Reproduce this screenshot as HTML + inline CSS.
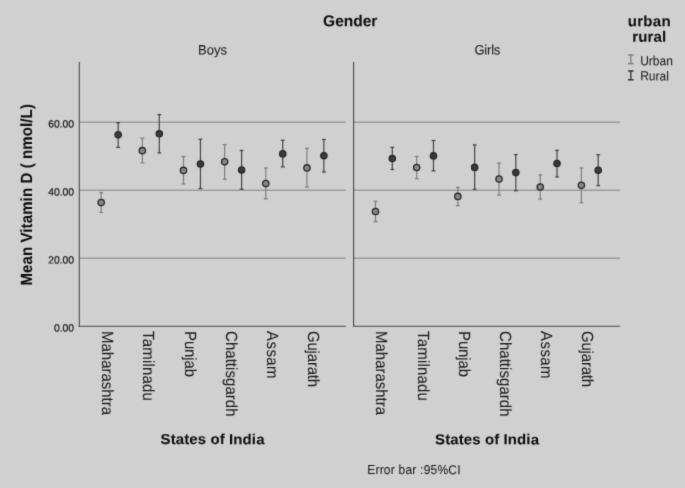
<!DOCTYPE html>
<html><head><meta charset="utf-8"><style>
html,body{margin:0;padding:0;background:#d0d0d0;}
body{width:685px;height:488px;overflow:hidden;}
svg{display:block;text-rendering:geometricPrecision;}
</style></head><body>
<svg width="685" height="488" viewBox="0 0 685 488">
<defs><filter id="bl" x="0" y="0" width="685" height="488" filterUnits="userSpaceOnUse" color-interpolation-filters="sRGB"><feConvolveMatrix order="3" kernelMatrix="0.0144 0.0912 0.0144 0.0912 0.5776 0.0912 0.0144 0.0912 0.0144" edgeMode="duplicate" preserveAlpha="true"/></filter></defs>
<g filter="url(#bl)">
<rect width="685" height="488" fill="#d0d0d0"/>
<line x1="79.3" y1="122.25" x2="345.8" y2="122.25" stroke="#9b9b9b" stroke-width="1.3"/>
<line x1="79.3" y1="190.25" x2="345.8" y2="190.25" stroke="#9b9b9b" stroke-width="1.3"/>
<line x1="79.3" y1="258.25" x2="345.8" y2="258.25" stroke="#9b9b9b" stroke-width="1.3"/>
<line x1="78.7" y1="326.3" x2="345.8" y2="326.3" stroke="#484848" stroke-width="1.1"/>
<line x1="79.3" y1="62" x2="79.3" y2="326.8" stroke="#484848" stroke-width="1.1"/>
<line x1="353.6" y1="122.25" x2="620" y2="122.25" stroke="#9b9b9b" stroke-width="1.3"/>
<line x1="353.6" y1="190.25" x2="620" y2="190.25" stroke="#9b9b9b" stroke-width="1.3"/>
<line x1="353.6" y1="258.25" x2="620" y2="258.25" stroke="#9b9b9b" stroke-width="1.3"/>
<line x1="353" y1="326.3" x2="620" y2="326.3" stroke="#484848" stroke-width="1.1"/>
<line x1="353.6" y1="62" x2="353.6" y2="326.8" stroke="#484848" stroke-width="1.1"/>
<line x1="101.2" y1="192.6" x2="101.2" y2="212.4" stroke="#7e7e7e" stroke-width="1.2"/><line x1="99.3" y1="192.6" x2="103.1" y2="192.6" stroke="#7e7e7e" stroke-width="1.3"/><line x1="99.3" y1="212.4" x2="103.1" y2="212.4" stroke="#7e7e7e" stroke-width="1.3"/><circle cx="101.2" cy="202.5" r="3.15" fill="#888888" stroke="#262626" stroke-width="1.3"/>
<line x1="142.35" y1="138.15" x2="142.35" y2="162.9" stroke="#7e7e7e" stroke-width="1.2"/><line x1="140.45" y1="138.15" x2="144.25" y2="138.15" stroke="#7e7e7e" stroke-width="1.3"/><line x1="140.45" y1="162.9" x2="144.25" y2="162.9" stroke="#7e7e7e" stroke-width="1.3"/><circle cx="142.35" cy="150.65" r="3.15" fill="#888888" stroke="#262626" stroke-width="1.3"/>
<line x1="183.5" y1="156.5" x2="183.5" y2="184" stroke="#7e7e7e" stroke-width="1.2"/><line x1="181.6" y1="156.5" x2="185.4" y2="156.5" stroke="#7e7e7e" stroke-width="1.3"/><line x1="181.6" y1="184" x2="185.4" y2="184" stroke="#7e7e7e" stroke-width="1.3"/><circle cx="183.5" cy="170.4" r="3.15" fill="#888888" stroke="#262626" stroke-width="1.3"/>
<line x1="224.65" y1="144.6" x2="224.65" y2="179.2" stroke="#7e7e7e" stroke-width="1.2"/><line x1="222.75" y1="144.6" x2="226.55" y2="144.6" stroke="#7e7e7e" stroke-width="1.3"/><line x1="222.75" y1="179.2" x2="226.55" y2="179.2" stroke="#7e7e7e" stroke-width="1.3"/><circle cx="224.65" cy="161.8" r="3.15" fill="#888888" stroke="#262626" stroke-width="1.3"/>
<line x1="265.8" y1="168" x2="265.8" y2="198.9" stroke="#7e7e7e" stroke-width="1.2"/><line x1="263.9" y1="168" x2="267.7" y2="168" stroke="#7e7e7e" stroke-width="1.3"/><line x1="263.9" y1="198.9" x2="267.7" y2="198.9" stroke="#7e7e7e" stroke-width="1.3"/><circle cx="265.8" cy="183.6" r="3.15" fill="#888888" stroke="#262626" stroke-width="1.3"/>
<line x1="306.95" y1="148.4" x2="306.95" y2="186.9" stroke="#7e7e7e" stroke-width="1.2"/><line x1="305.05" y1="148.4" x2="308.85" y2="148.4" stroke="#7e7e7e" stroke-width="1.3"/><line x1="305.05" y1="186.9" x2="308.85" y2="186.9" stroke="#7e7e7e" stroke-width="1.3"/><circle cx="306.95" cy="167.9" r="3.15" fill="#888888" stroke="#262626" stroke-width="1.3"/>
<line x1="118.15" y1="122.7" x2="118.15" y2="147.4" stroke="#444444" stroke-width="1.2"/><line x1="116.25" y1="122.7" x2="120.05" y2="122.7" stroke="#444444" stroke-width="1.3"/><line x1="116.25" y1="147.4" x2="120.05" y2="147.4" stroke="#444444" stroke-width="1.3"/><circle cx="118.15" cy="134.8" r="3.15" fill="#3a3a3a" stroke="#262626" stroke-width="1.3"/>
<line x1="159.3" y1="114.6" x2="159.3" y2="152.9" stroke="#444444" stroke-width="1.2"/><line x1="157.4" y1="114.6" x2="161.2" y2="114.6" stroke="#444444" stroke-width="1.3"/><line x1="157.4" y1="152.9" x2="161.2" y2="152.9" stroke="#444444" stroke-width="1.3"/><circle cx="159.3" cy="133.7" r="3.15" fill="#3a3a3a" stroke="#262626" stroke-width="1.3"/>
<line x1="200.45" y1="139.3" x2="200.45" y2="188.5" stroke="#444444" stroke-width="1.2"/><line x1="198.55" y1="139.3" x2="202.35" y2="139.3" stroke="#444444" stroke-width="1.3"/><line x1="198.55" y1="188.5" x2="202.35" y2="188.5" stroke="#444444" stroke-width="1.3"/><circle cx="200.45" cy="164" r="3.15" fill="#3a3a3a" stroke="#262626" stroke-width="1.3"/>
<line x1="241.6" y1="150.5" x2="241.6" y2="189.2" stroke="#444444" stroke-width="1.2"/><line x1="239.7" y1="150.5" x2="243.5" y2="150.5" stroke="#444444" stroke-width="1.3"/><line x1="239.7" y1="189.2" x2="243.5" y2="189.2" stroke="#444444" stroke-width="1.3"/><circle cx="241.6" cy="170.1" r="3.15" fill="#3a3a3a" stroke="#262626" stroke-width="1.3"/>
<line x1="282.75" y1="140.3" x2="282.75" y2="166.9" stroke="#444444" stroke-width="1.2"/><line x1="280.85" y1="140.3" x2="284.65" y2="140.3" stroke="#444444" stroke-width="1.3"/><line x1="280.85" y1="166.9" x2="284.65" y2="166.9" stroke="#444444" stroke-width="1.3"/><circle cx="282.75" cy="153.9" r="3.15" fill="#3a3a3a" stroke="#262626" stroke-width="1.3"/>
<line x1="323.9" y1="139.5" x2="323.9" y2="172" stroke="#444444" stroke-width="1.2"/><line x1="322" y1="139.5" x2="325.8" y2="139.5" stroke="#444444" stroke-width="1.3"/><line x1="322" y1="172" x2="325.8" y2="172" stroke="#444444" stroke-width="1.3"/><circle cx="323.9" cy="155.7" r="3.15" fill="#3a3a3a" stroke="#262626" stroke-width="1.3"/>
<line x1="375.5" y1="201.3" x2="375.5" y2="221.6" stroke="#7e7e7e" stroke-width="1.2"/><line x1="373.6" y1="201.3" x2="377.4" y2="201.3" stroke="#7e7e7e" stroke-width="1.3"/><line x1="373.6" y1="221.6" x2="377.4" y2="221.6" stroke="#7e7e7e" stroke-width="1.3"/><circle cx="375.5" cy="211.5" r="3.15" fill="#888888" stroke="#262626" stroke-width="1.3"/>
<line x1="416.68" y1="156.4" x2="416.68" y2="178.65" stroke="#7e7e7e" stroke-width="1.2"/><line x1="414.78" y1="156.4" x2="418.58" y2="156.4" stroke="#7e7e7e" stroke-width="1.3"/><line x1="414.78" y1="178.65" x2="418.58" y2="178.65" stroke="#7e7e7e" stroke-width="1.3"/><circle cx="416.68" cy="167.55" r="3.15" fill="#888888" stroke="#262626" stroke-width="1.3"/>
<line x1="457.86" y1="187.4" x2="457.86" y2="205.7" stroke="#7e7e7e" stroke-width="1.2"/><line x1="455.96" y1="187.4" x2="459.76" y2="187.4" stroke="#7e7e7e" stroke-width="1.3"/><line x1="455.96" y1="205.7" x2="459.76" y2="205.7" stroke="#7e7e7e" stroke-width="1.3"/><circle cx="457.86" cy="196.4" r="3.15" fill="#888888" stroke="#262626" stroke-width="1.3"/>
<line x1="499.04" y1="163.1" x2="499.04" y2="195.1" stroke="#7e7e7e" stroke-width="1.2"/><line x1="497.14" y1="163.1" x2="500.94" y2="163.1" stroke="#7e7e7e" stroke-width="1.3"/><line x1="497.14" y1="195.1" x2="500.94" y2="195.1" stroke="#7e7e7e" stroke-width="1.3"/><circle cx="499.04" cy="179" r="3.15" fill="#888888" stroke="#262626" stroke-width="1.3"/>
<line x1="540.22" y1="174.9" x2="540.22" y2="199.1" stroke="#7e7e7e" stroke-width="1.2"/><line x1="538.32" y1="174.9" x2="542.12" y2="174.9" stroke="#7e7e7e" stroke-width="1.3"/><line x1="538.32" y1="199.1" x2="542.12" y2="199.1" stroke="#7e7e7e" stroke-width="1.3"/><circle cx="540.22" cy="187" r="3.15" fill="#888888" stroke="#262626" stroke-width="1.3"/>
<line x1="581.4" y1="168" x2="581.4" y2="202.7" stroke="#7e7e7e" stroke-width="1.2"/><line x1="579.5" y1="168" x2="583.3" y2="168" stroke="#7e7e7e" stroke-width="1.3"/><line x1="579.5" y1="202.7" x2="583.3" y2="202.7" stroke="#7e7e7e" stroke-width="1.3"/><circle cx="581.4" cy="185.3" r="3.15" fill="#888888" stroke="#262626" stroke-width="1.3"/>
<line x1="392.3" y1="147.4" x2="392.3" y2="169.5" stroke="#444444" stroke-width="1.2"/><line x1="390.4" y1="147.4" x2="394.2" y2="147.4" stroke="#444444" stroke-width="1.3"/><line x1="390.4" y1="169.5" x2="394.2" y2="169.5" stroke="#444444" stroke-width="1.3"/><circle cx="392.3" cy="158.45" r="3.15" fill="#3a3a3a" stroke="#262626" stroke-width="1.3"/>
<line x1="433.48" y1="140.5" x2="433.48" y2="170.9" stroke="#444444" stroke-width="1.2"/><line x1="431.58" y1="140.5" x2="435.38" y2="140.5" stroke="#444444" stroke-width="1.3"/><line x1="431.58" y1="170.9" x2="435.38" y2="170.9" stroke="#444444" stroke-width="1.3"/><circle cx="433.48" cy="155.9" r="3.15" fill="#3a3a3a" stroke="#262626" stroke-width="1.3"/>
<line x1="474.66" y1="144.9" x2="474.66" y2="189.3" stroke="#444444" stroke-width="1.2"/><line x1="472.76" y1="144.9" x2="476.56" y2="144.9" stroke="#444444" stroke-width="1.3"/><line x1="472.76" y1="189.3" x2="476.56" y2="189.3" stroke="#444444" stroke-width="1.3"/><circle cx="474.66" cy="167.4" r="3.15" fill="#3a3a3a" stroke="#262626" stroke-width="1.3"/>
<line x1="515.84" y1="154.6" x2="515.84" y2="190.7" stroke="#444444" stroke-width="1.2"/><line x1="513.94" y1="154.6" x2="517.74" y2="154.6" stroke="#444444" stroke-width="1.3"/><line x1="513.94" y1="190.7" x2="517.74" y2="190.7" stroke="#444444" stroke-width="1.3"/><circle cx="515.84" cy="172.6" r="3.15" fill="#3a3a3a" stroke="#262626" stroke-width="1.3"/>
<line x1="557.02" y1="150.4" x2="557.02" y2="176.9" stroke="#444444" stroke-width="1.2"/><line x1="555.12" y1="150.4" x2="558.92" y2="150.4" stroke="#444444" stroke-width="1.3"/><line x1="555.12" y1="176.9" x2="558.92" y2="176.9" stroke="#444444" stroke-width="1.3"/><circle cx="557.02" cy="163.5" r="3.15" fill="#3a3a3a" stroke="#262626" stroke-width="1.3"/>
<line x1="598.2" y1="154.7" x2="598.2" y2="185.6" stroke="#444444" stroke-width="1.2"/><line x1="596.3" y1="154.7" x2="600.1" y2="154.7" stroke="#444444" stroke-width="1.3"/><line x1="596.3" y1="185.6" x2="600.1" y2="185.6" stroke="#444444" stroke-width="1.3"/><circle cx="598.2" cy="170.3" r="3.15" fill="#3a3a3a" stroke="#262626" stroke-width="1.3"/>
<text transform="translate(74,127.5) rotate(0.1) scale(1,1.02)" text-anchor="end" font-size="10.3" fill="#141414" stroke="#141414" stroke-width="0.18" font-family="Liberation Sans, sans-serif">60.00</text>
<text transform="translate(74,195.5) rotate(0.1) scale(1,1.02)" text-anchor="end" font-size="10.3" fill="#141414" stroke="#141414" stroke-width="0.18" font-family="Liberation Sans, sans-serif">40.00</text>
<text transform="translate(74,263.5) rotate(0.1) scale(1,1.02)" text-anchor="end" font-size="10.3" fill="#141414" stroke="#141414" stroke-width="0.18" font-family="Liberation Sans, sans-serif">20.00</text>
<text transform="translate(74,331.6) rotate(0.1) scale(1,1.02)" text-anchor="end" font-size="10.3" fill="#141414" stroke="#141414" stroke-width="0.18" font-family="Liberation Sans, sans-serif">0.00</text>
<text transform="translate(350.2,26.3) rotate(0.1) scale(1,1.02)" text-anchor="middle" font-size="15.5" font-weight="bold" fill="#0e0e0e" stroke="#0e0e0e" stroke-width="0.06" font-family="Liberation Sans, sans-serif">Gender</text>
<text transform="translate(212.5,54.45) rotate(0.1) scale(1,1.05)" text-anchor="middle" font-size="13" fill="#1c1c1c" stroke="#1c1c1c" stroke-width="0.06" font-family="Liberation Sans, sans-serif">Boys</text>
<text transform="translate(487.4,54.45) rotate(0.1) scale(1,1.05)" text-anchor="middle" font-size="13" fill="#1c1c1c" stroke="#1c1c1c" stroke-width="0.06" textLength="25.9" lengthAdjust="spacing" font-family="Liberation Sans, sans-serif">Girls</text>
<text transform="translate(31.6,194.85) rotate(-90) scale(1,1.08)" text-anchor="middle" font-size="15" font-weight="bold" fill="#0e0e0e" stroke="#0e0e0e" stroke-width="0.06" textLength="181.5" lengthAdjust="spacing" font-family="Liberation Sans, sans-serif">Mean Vitamin D ( nmol/L)</text>
<text transform="translate(102.2,331) rotate(90) scale(1,1.08)" font-size="15" fill="#1c1c1c" stroke="#1c1c1c" stroke-width="0.06" textLength="84.07" lengthAdjust="spacing" font-family="Liberation Sans, sans-serif">Maharashtra</text>
<text transform="translate(143.36,331) rotate(90) scale(1,1.08)" font-size="15" fill="#1c1c1c" stroke="#1c1c1c" stroke-width="0.06" textLength="69.83" lengthAdjust="spacing" font-family="Liberation Sans, sans-serif">Tamilnadu</text>
<text transform="translate(184.52,331) rotate(90) scale(1,1.08)" font-size="15" fill="#1c1c1c" stroke="#1c1c1c" stroke-width="0.06" textLength="46.12" lengthAdjust="spacing" font-family="Liberation Sans, sans-serif">Punjab</text>
<text transform="translate(225.68,331) rotate(90) scale(1,1.08)" font-size="15" fill="#1c1c1c" stroke="#1c1c1c" stroke-width="0.06" textLength="85.56" lengthAdjust="spacing" font-family="Liberation Sans, sans-serif">Chattisgardh</text>
<text transform="translate(266.84,331) rotate(90) scale(1,1.08)" font-size="15" fill="#1c1c1c" stroke="#1c1c1c" stroke-width="0.06" textLength="47.59" lengthAdjust="spacing" font-family="Liberation Sans, sans-serif">Assam</text>
<text transform="translate(308,331) rotate(90) scale(1,1.08)" font-size="15" fill="#1c1c1c" stroke="#1c1c1c" stroke-width="0.06" textLength="56.15" lengthAdjust="spacing" font-family="Liberation Sans, sans-serif">Gujarath</text>
<text transform="translate(376.4,331) rotate(90) scale(1,1.08)" font-size="15" fill="#1c1c1c" stroke="#1c1c1c" stroke-width="0.06" textLength="84.07" lengthAdjust="spacing" font-family="Liberation Sans, sans-serif">Maharashtra</text>
<text transform="translate(417.56,331) rotate(90) scale(1,1.08)" font-size="15" fill="#1c1c1c" stroke="#1c1c1c" stroke-width="0.06" textLength="69.83" lengthAdjust="spacing" font-family="Liberation Sans, sans-serif">Tamilnadu</text>
<text transform="translate(458.72,331) rotate(90) scale(1,1.08)" font-size="15" fill="#1c1c1c" stroke="#1c1c1c" stroke-width="0.06" textLength="46.12" lengthAdjust="spacing" font-family="Liberation Sans, sans-serif">Punjab</text>
<text transform="translate(499.88,331) rotate(90) scale(1,1.08)" font-size="15" fill="#1c1c1c" stroke="#1c1c1c" stroke-width="0.06" textLength="85.56" lengthAdjust="spacing" font-family="Liberation Sans, sans-serif">Chattisgardh</text>
<text transform="translate(541.04,331) rotate(90) scale(1,1.08)" font-size="15" fill="#1c1c1c" stroke="#1c1c1c" stroke-width="0.06" textLength="47.59" lengthAdjust="spacing" font-family="Liberation Sans, sans-serif">Assam</text>
<text transform="translate(582.2,331) rotate(90) scale(1,1.08)" font-size="15" fill="#1c1c1c" stroke="#1c1c1c" stroke-width="0.06" textLength="56.15" lengthAdjust="spacing" font-family="Liberation Sans, sans-serif">Gujarath</text>
<text transform="translate(212.5,444.1) rotate(0.1) scale(1,0.96)" text-anchor="middle" font-size="15" font-weight="bold" fill="#0e0e0e" stroke="#0e0e0e" stroke-width="0.06" textLength="104" lengthAdjust="spacing" font-family="Liberation Sans, sans-serif">States of India</text>
<text transform="translate(487,444.3) rotate(0.1) scale(1,0.96)" text-anchor="middle" font-size="15" font-weight="bold" fill="#0e0e0e" stroke="#0e0e0e" stroke-width="0.06" textLength="104" lengthAdjust="spacing" font-family="Liberation Sans, sans-serif">States of India</text>
<text transform="translate(367.2,474) rotate(0.1) scale(1,1.08)" font-size="12" fill="#1c1c1c" stroke="#1c1c1c" stroke-width="0.06" textLength="93.4" lengthAdjust="spacing" font-family="Liberation Sans, sans-serif">Error bar :95%CI</text>
<text transform="translate(649.2,26.2) rotate(0.1) scale(1,1.0)" text-anchor="middle" font-size="15" font-weight="bold" fill="#0e0e0e" stroke="#0e0e0e" stroke-width="0.06" textLength="42.9" lengthAdjust="spacing" font-family="Liberation Sans, sans-serif">urban</text>
<text transform="translate(649.2,41.7) rotate(0.1) scale(1,1.0)" text-anchor="middle" font-size="15" font-weight="bold" fill="#0e0e0e" stroke="#0e0e0e" stroke-width="0.06" textLength="34" lengthAdjust="spacing" font-family="Liberation Sans, sans-serif">rural</text>
<line x1="630.8" y1="55.0" x2="630.8" y2="63.6" stroke="#7e7e7e" stroke-width="1.3"/><line x1="628" y1="55.0" x2="633.6" y2="55.0" stroke="#7e7e7e" stroke-width="1.5"/><line x1="628" y1="63.6" x2="633.6" y2="63.6" stroke="#7e7e7e" stroke-width="1.5"/>
<line x1="630.8" y1="71.0" x2="630.8" y2="79.8" stroke="#303030" stroke-width="1.3"/><line x1="628" y1="71.0" x2="633.6" y2="71.0" stroke="#303030" stroke-width="1.5"/><line x1="628" y1="79.8" x2="633.6" y2="79.8" stroke="#303030" stroke-width="1.5"/>
<text transform="translate(640.2,65.2) rotate(0.1) scale(1,1.08)" font-size="12" fill="#1c1c1c" stroke="#1c1c1c" stroke-width="0.06" font-family="Liberation Sans, sans-serif">Urban</text>
<text transform="translate(640.2,80.35) rotate(0.1) scale(1,1.08)" font-size="12" fill="#1c1c1c" stroke="#1c1c1c" stroke-width="0.06" font-family="Liberation Sans, sans-serif">Rural</text>
</g>
</svg>
</body></html>
